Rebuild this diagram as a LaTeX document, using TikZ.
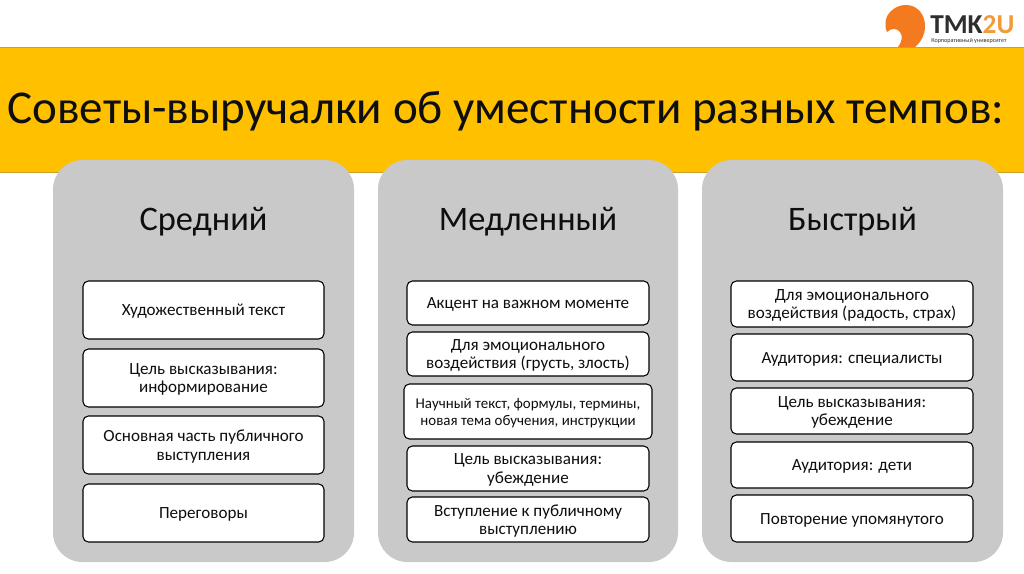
\documentclass[tikz,border=0pt]{standalone}
\usepackage{fontspec}
\setmainfont{Carlito}
\tikzset{
  x=0.75pt,y=-0.75pt,
  panel/.style={fill=panelgray,draw=none,rounded corners=22pt},
  item/.style={fill=white,draw=black,line width=0.8pt,rounded corners=4pt,inner sep=0pt},
  itemtext/.style={align=center,font=\fontsize{12.8pt}{14pt}\selectfont,text=textdark,inner sep=0pt},
  small/.style={font=\fontsize{11.2pt}{12.8pt}\selectfont},
  heading/.style={font=\fontsize{25.8pt}{30pt}\selectfont,text=textdark,inner sep=0pt},
}
\definecolor{panelgray}{HTML}{C9C9C9}
\definecolor{band}{HTML}{FFC000}
\definecolor{bandline}{HTML}{C9A227}
\definecolor{textdark}{HTML}{0E0E0E}
\definecolor{logoorange}{HTML}{F37A1F}
\definecolor{logotwo}{HTML}{F39A3A}
\definecolor{logodark}{HTML}{2E2E2E}
\newcommand{\itembox}[7][]{%
  \node[item,minimum width=#4*0.75pt-#2*0.75pt,minimum height=#5*0.75pt-#3*0.75pt] (#6) at ({(#2+#4)/2},{(#3+#5)/2}) {};
  \node[itemtext,#1] (#6t) at ([yshift=-1.1pt]#6.center) {#7};}
\begin{document}
\begin{tikzpicture}
\useasboundingbox (0,0) rectangle (1024,574);
\fill[white] (0,0) rectangle (1024,574);
% band
\fill[band] (0,47) rectangle (1024,172);
\draw[bandline,line width=0.7pt] (0,47) -- (1024,47);
\draw[bandline,line width=0.7pt] (0,172) -- (1024,172);
\node[anchor=west,inner sep=0pt,text=textdark,font=\fontsize{35.3pt}{40pt}\selectfont] (title) at (7,111) {Советы-выручалки об уместности разных темпов:};
% logo
\fill[logoorange] (887,32) .. controls (884,25) and (885,17) .. (890,12) .. controls (895,7) and (900,5) .. (906,5) .. controls (917,5) and (925,14) .. (925,26) .. controls (925,35) and (921,42) .. (915,47) -- (898,47) .. controls (902,42) and (903,36) .. (900,32) .. controls (897,28) and (891,28) .. (887,32) -- cycle;
\node[anchor=west,inner sep=0pt,font=\bfseries\fontsize{20.5pt}{20.5pt}\selectfont,text=logodark] (tmk) at (930,25) {TMK\textcolor{logotwo}{2U}};
\node[anchor=west,inner sep=0pt,font=\fontsize{4.6pt}{5pt}\selectfont,text=logodark] (corp) at (931,40.5) {Корпоративный университет};
% panels
\fill[panel] (53,160) rectangle (354,562);
\fill[panel] (378,160) rectangle (678,562);
\fill[panel] (702,160) rectangle (1003,562);
\node[heading] (h1) at (203.5,222) {Средний};
\node[heading] (h2) at (528,222) {Медленный};
\node[heading] (h3) at (852.5,222) {Быстрый};
% column 1
\itembox{83}{281}{324}{339}{a1}{Художественный текст}
\itembox{83}{349}{324}{407}{a2}{Цель высказывания:\\информирование}
\itembox{83}{416}{324}{474}{a3}{Основная часть публичного\\выступления}
\itembox{83}{484}{324}{542}{a4}{Переговоры}
% column 2
\itembox{407}{281}{649}{325}{b1}{Акцент на важном моменте}
\itembox{407}{332}{649}{376}{b2}{Для эмоционального\\воздействия (грусть, злость)}
\itembox[small]{404}{384}{652}{439}{b3}{Научный текст, формулы, термины,\\новая тема обучения, инструкции}
\itembox{407}{446}{649}{491}{b4}{Цель высказывания:\\убеждение}
\itembox{407}{497}{649}{542}{b5}{Вступление к публичному\\выступлению}
% column 3
\itembox{731}{281}{973}{327}{c1}{Для эмоционального\\воздействия (радость, страх)}
\itembox{731}{334}{973}{381}{c2}{Аудитория: специалисты}
\itembox{731}{388}{973}{434}{c3}{Цель высказывания:\\убеждение}
\itembox{731}{442}{973}{488}{c4}{Аудитория: дети}
\itembox{731}{495}{973}{542}{c5}{Повторение упомянутого}
\end{tikzpicture}
\end{document}
